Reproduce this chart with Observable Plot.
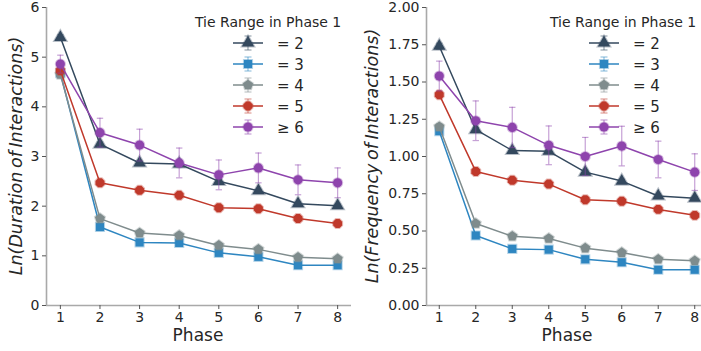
<!DOCTYPE html>
<html>
<head>
<meta charset="utf-8">
<script src="https://cdn.jsdelivr.net/npm/d3@7"></script>
<script src="https://cdn.jsdelivr.net/npm/@observablehq/plot@0.6"></script>
<style>
  body { margin: 0; background: #fff; }
  #wrap { position: relative; width: 701px; height: 351px; overflow: hidden; font-family: "DejaVu Sans", sans-serif; }
  #wrap svg { position: absolute; top: 0; background: transparent; }
</style>
</head>
<body>
<div id="wrap"></div>
<script>
// ---------- data ----------
const phases = [1, 2, 3, 4, 5, 6, 7, 8];
const seriesLabels = ["= 2", "= 3", "= 4", "= 5", "≥ 6"];
const seriesColors = ["#34495e", "#2e86c1", "#7f8c8d", "#c0392b", "#8e44ad"];
const legendTitle = "Tie Range in Phase 1";
const xLabel = "Phase";
const durationLabel = "Ln(Duration of Interactions)";
const frequencyLabel = "Ln(Frequency of Interactions)";
const durationTicks = [0, 1, 2, 3, 4, 5, 6];
const frequencyTicks = [0, 0.25, 0.5, 0.75, 1.0, 1.25, 1.5, 1.75, 2.0];

// Ln(Duration of Interactions)
const durEq2 = [5.40, 3.25, 2.87, 2.85, 2.50, 2.31, 2.05, 2.01];
const durEq3 = [4.68, 1.58, 1.27, 1.26, 1.06, 0.98, 0.81, 0.81];
const durEq4 = [4.65, 1.75, 1.46, 1.41, 1.21, 1.13, 0.97, 0.94];
const durEq5 = [4.73, 2.47, 2.32, 2.22, 1.97, 1.95, 1.75, 1.65];
const durGe6 = [4.86, 3.48, 3.23, 2.87, 2.63, 2.77, 2.53, 2.47];
const durErrEq2 = [0.05, 0.04, 0.03, 0.03, 0.04, 0.03, 0.03, 0.03];
const durErrEq3 = [0.04, 0.03, 0.03, 0.03, 0.03, 0.03, 0.03, 0.03];
const durErrEq4 = [0.05, 0.03, 0.03, 0.03, 0.03, 0.03, 0.03, 0.03];
const durErrEq5 = [0.06, 0.04, 0.04, 0.04, 0.04, 0.04, 0.04, 0.04];
const durErrGe6 = [0.18, 0.29, 0.32, 0.30, 0.30, 0.30, 0.30, 0.30];

// Ln(Frequency of Interactions)
const freqEq2 = [1.74, 1.18, 1.04, 1.035, 0.895, 0.835, 0.735, 0.72];
const freqEq3 = [1.17, 0.47, 0.38, 0.375, 0.31, 0.29, 0.24, 0.24];
const freqEq4 = [1.20, 0.55, 0.465, 0.45, 0.385, 0.355, 0.31, 0.30];
const freqEq5 = [1.415, 0.90, 0.84, 0.815, 0.71, 0.70, 0.645, 0.605];
const freqGe6 = [1.54, 1.24, 1.195, 1.075, 1.00, 1.07, 0.98, 0.895];
const freqErrEq2 = [0.02, 0.015, 0.012, 0.012, 0.012, 0.012, 0.012, 0.012];
const freqErrEq3 = [0.02, 0.012, 0.01, 0.01, 0.01, 0.01, 0.01, 0.01];
const freqErrEq4 = [0.02, 0.012, 0.01, 0.01, 0.01, 0.01, 0.01, 0.01];
const freqErrEq5 = [0.02, 0.018, 0.018, 0.018, 0.018, 0.018, 0.018, 0.018];
const freqErrGe6 = [0.10, 0.133, 0.135, 0.13, 0.128, 0.133, 0.123, 0.123];

// ---------- symbols ----------
function polygonSymbol(n, areaFactor, rot) {
  return {
    draw(ctx, size) {
      const R = Math.sqrt(size / areaFactor);
      for (let k = 0; k < n; k++) {
        const a = rot + k * 2 * Math.PI / n;
        const px = R * Math.cos(a), py = R * Math.sin(a);
        if (k === 0) ctx.moveTo(px, py); else ctx.lineTo(px, py);
      }
      ctx.closePath();
    }
  };
}
const pentagon = polygonSymbol(5, 2.5 * Math.sin(2 * Math.PI / 5), -Math.PI / 2);
const octagon = polygonSymbol(8, 2 * Math.SQRT2, Math.PI / 8);
const triangleUp = polygonSymbol(3, 1.299, -Math.PI / 2);
const capSymbol = {
  draw(ctx, size) {
    const w = Math.sqrt(size) / 2;
    ctx.moveTo(-w, 0); ctx.lineTo(w, 0);
  }
};
const seriesSymbols = [triangleUp, d3.symbolSquare, pentagon, octagon, d3.symbolCircle];

function buildRows(values, errors) {
  const rows = [];
  values.forEach((arr, s) => {
    arr.forEach((v, i) => rows.push({ series: seriesLabels[s], s, phase: phases[i], value: v, err: errors[s][i] }));
  });
  return rows;
}

const durationRows = buildRows([durEq2, durEq3, durEq4, durEq5, durGe6], [durErrEq2, durErrEq3, durErrEq4, durErrEq5, durErrGe6]);
const frequencyRows = buildRows([freqEq2, freqEq3, freqEq4, freqEq5, freqGe6], [freqErrEq2, freqErrEq3, freqErrEq4, freqErrEq5, freqErrGe6]);

const spine = "#a9a9a9";
const ink = "#262626";

function panel(rows, opts) {
  const marks = [
    Plot.ruleY([opts.yDomain[0]], { stroke: spine, strokeWidth: 1.6 }),
    Plot.ruleX([0.65], { stroke: spine, strokeWidth: 1.6 }),
    Plot.axisX({ ticks: phases, tickFormat: d => String(d), tickSize: 4, tickPadding: 3, fontSize: 14, stroke: "#555", color: ink, label: null }),
    Plot.axisY({ ticks: opts.yTicks, tickFormat: opts.yFormat, tickSize: 4, tickPadding: 3, fontSize: 14, stroke: "#555", color: ink, label: null })
  ];
  seriesLabels.forEach((lab, s) => {
    const data = rows.filter(d => d.s === s);
    const c = seriesColors[s];
    marks.push(
      Plot.ruleX(data, { x: "phase", y1: d => d.value - d.err, y2: d => d.value + d.err, stroke: c, strokeOpacity: 0.5, strokeWidth: 1.2 }),
      Plot.dot(data, { x: "phase", y: d => d.value + d.err, symbol: capSymbol, r: 3.6, stroke: c, strokeOpacity: 0.5, strokeWidth: 1.2, fill: "none" }),
      Plot.dot(data, { x: "phase", y: d => d.value - d.err, symbol: capSymbol, r: 3.6, stroke: c, strokeOpacity: 0.5, strokeWidth: 1.2, fill: "none" }),
      Plot.line(data, { x: "phase", y: "value", stroke: c, strokeWidth: 1.5 }),
      Plot.dot(data, { x: "phase", y: "value", symbol: seriesSymbols[s], r: 4.6, fill: c, stroke: c, strokeOpacity: 0.35, strokeWidth: 2 })
    );
  });
  const svg = Plot.plot({
    width: opts.width,
    height: 351,
    marginLeft: opts.marginLeft,
    marginRight: 0,
    marginTop: 7,
    marginBottom: 46,
    style: { fontFamily: "DejaVu Sans, sans-serif", background: "transparent", overflow: "visible" },
    x: { domain: [0.65, 8.35] },
    y: { domain: opts.yDomain },
    marks
  });
  svg.style.left = opts.left + "px";
  const g = d3.select(svg);
  // y label
  g.append("text")
    .attr("transform", `translate(${opts.yLabelX},156) rotate(-90)`)
    .attr("text-anchor", "middle")
    .attr("font-size", 17.5)
    .attr("font-style", "italic")
    .attr("word-spacing", -2)
    .attr("fill", ink)
    .text(opts.yLabel);
  // x label
  g.append("text")
    .attr("x", opts.xLabelX).attr("y", 341)
    .attr("text-anchor", "middle")
    .attr("font-size", 17)
    .attr("fill", ink)
    .text(xLabel);
  // legend
  g.append("text")
    .attr("x", opts.legTitleX).attr("y", 27)
    .attr("text-anchor", "start")
    .attr("font-size", 14)
    .attr("fill", ink)
    .text(legendTitle);
  seriesLabels.forEach((lab, s) => {
    const y = 43 + s * 21;
    const c = seriesColors[s];
    const lg = g.append("g");
    lg.append("line").attr("x1", opts.legLineX).attr("x2", opts.legLineX + 30).attr("y1", y).attr("y2", y)
      .attr("stroke", c).attr("stroke-width", 1.5);
    const mx = opts.legLineX + 15;
    lg.append("line").attr("x1", mx).attr("x2", mx).attr("y1", y - 7).attr("y2", y + 7)
      .attr("stroke", c).attr("stroke-opacity", 0.5).attr("stroke-width", 1.2);
    [y - 7, y + 7].forEach(cy => lg.append("line").attr("x1", mx - 3.5).attr("x2", mx + 3.5).attr("y1", cy).attr("y2", cy)
      .attr("stroke", c).attr("stroke-opacity", 0.5).attr("stroke-width", 1.2));
    lg.append("path").attr("transform", `translate(${mx},${y})`)
      .attr("d", d3.symbol(seriesSymbols[s], Math.PI * 4.6 * 4.6)())
      .attr("fill", c).attr("stroke", c).attr("stroke-opacity", 0.35).attr("stroke-width", 2);
    lg.append("text").attr("x", opts.legLineX + 44).attr("y", y + 5.5)
      .attr("text-anchor", "start")
      .attr("font-size", 15).attr("fill", ink).text(lab);
  });
  return svg;
}

const wrap = document.getElementById("wrap");
wrap.appendChild(panel(durationRows, {
  width: 351, marginLeft: 46, left: 0, yDomain: [0, 6], yTicks: durationTicks, yFormat: d => String(d),
  yLabel: durationLabel, yLabelX: 22, xLabelX: 198, legTitleX: 195, legLineX: 233
}));
wrap.appendChild(panel(frequencyRows, {
  width: 357, marginLeft: 76, left: 350, yDomain: [0, 2], yTicks: frequencyTicks, yFormat: d => d.toFixed(2),
  yLabel: frequencyLabel, yLabelX: 28, xLabelX: 217, legTitleX: 200, legLineX: 239
}));
</script>
</body>
</html>
